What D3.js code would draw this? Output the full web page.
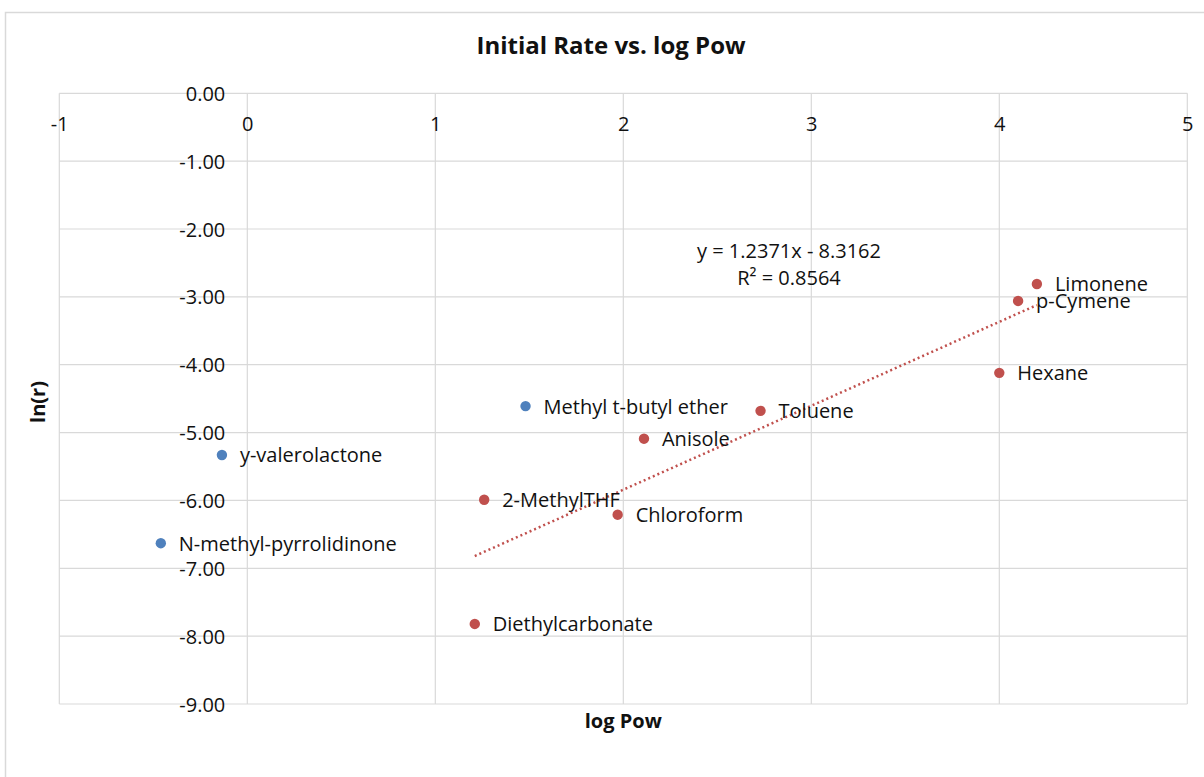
<!DOCTYPE html>
<html>
<head>
<meta charset="utf-8">
<script src="https://cdn.jsdelivr.net/npm/d3@7"></script>
<style>
  html, body { margin: 0; padding: 0; background: #fff; }
  svg { display: block; font-family: "Open Sans", sans-serif; }
</style>
</head>
<body>
<svg id="chart" width="1204" height="777"></svg>
<script>
// ---- Data ----
const blueNames  = ["N-methyl-pyrrolidinone", "y-valerolactone", "Methyl t-butyl ether"];
const blueX      = [-0.46, -0.135, 1.48];
const blueY      = [-6.63, -5.33, -4.61];

const redNames   = ["2-MethylTHF", "Diethylcarbonate", "Chloroform", "Anisole", "Toluene", "Hexane", "p-Cymene", "Limonene"];
const redX       = [1.26, 1.21, 1.97, 2.11, 2.73, 4.00, 4.10, 4.20];
const redY       = [-5.99, -7.82, -6.21, -5.09, -4.68, -4.12, -3.06, -2.81];

const trendSlope = 1.2371;
const trendIntercept = -8.3162;
const trendR2 = 0.8564;

const xTicks = [-1, 0, 1, 2, 3, 4, 5];
const yTicks = [0, -1, -2, -3, -4, -5, -6, -7, -8, -9];

const titleText = "Initial Rate vs. log Pow";
const xTitle = "log Pow";
const yTitle = "ln(r)";

// ---- Layout ----
const svg = d3.select("#chart");
const pLeft = 59.3, pRight = 1187.3, pTop = 93.3, pBottom = 704;
const x = d3.scaleLinear().domain([-1, 5]).range([pLeft, pRight]);
const y = d3.scaleLinear().domain([0, -9]).range([pTop, pBottom]);

const blue = "#4F81BD", red = "#C0504D", grid = "#d9d9d9";
const loc = d3.formatLocale({ decimal: ".", thousands: ",", grouping: [3], currency: ["", ""], minus: "-" });

// outer chart border
svg.append("rect").attr("x", 5.5).attr("y", 12.5).attr("width", 1400).attr("height", 900)
  .attr("fill", "none").attr("stroke", grid).attr("stroke-width", 1.5);

// gridlines
svg.append("g").selectAll("line").data(yTicks).join("line")
  .attr("x1", pLeft).attr("x2", pRight)
  .attr("y1", d => y(d)).attr("y2", d => y(d))
  .attr("stroke", grid).attr("stroke-width", 1.2);
svg.append("g").selectAll("line").data(xTicks).join("line")
  .attr("x1", d => x(d)).attr("x2", d => x(d))
  .attr("y1", pTop).attr("y2", pBottom)
  .attr("stroke", grid).attr("stroke-width", 1.2);

// x axis (crosses at y=0) labels
const xAxis = d3.axisBottom(x).tickValues(xTicks).tickFormat(loc.format("d")).tickSize(0).tickPadding(0);
const gx = svg.append("g").attr("transform", `translate(0,${y(0)})`).call(xAxis);
gx.select(".domain").remove();
gx.selectAll("text").attr("y", 38).attr("dy", 0)
  .attr("font-family", "Open Sans").attr("font-size", 20).attr("fill", "#111");

// y axis (crosses at x=0)
const yAxis = d3.axisLeft(y).tickValues(yTicks).tickFormat(loc.format(".2f")).tickSize(0).tickPadding(0);
const gy = svg.append("g").attr("transform", `translate(${x(0)},0)`).call(yAxis);
gy.select(".domain").remove();
gy.selectAll("text").attr("x", -22).attr("dy", "0.35em")
  .attr("font-family", "Open Sans").attr("font-size", 20).attr("fill", "#111");

// trendline (red series)
const tx0 = d3.min(redX), tx1 = d3.max(redX);
svg.append("line")
  .attr("x1", x(tx0)).attr("y1", y(trendSlope * tx0 + trendIntercept))
  .attr("x2", x(tx1)).attr("y2", y(trendSlope * tx1 + trendIntercept))
  .attr("stroke", red).attr("stroke-width", 2.5).attr("stroke-dasharray", "2,3");

// points + labels
function drawSeries(names, xs, ys, color) {
  const data = names.map((n, i) => ({ n, x: xs[i], y: ys[i] }));
  const g = svg.append("g");
  g.selectAll("circle").data(data).join("circle")
    .attr("cx", d => x(d.x)).attr("cy", d => y(d.y)).attr("r", 5.2).attr("fill", color);
  g.selectAll("text").data(data).join("text")
    .attr("x", d => x(d.x) + 18).attr("y", d => y(d.y) + 7.5)
    .attr("font-size", 20).attr("fill", "#111").text(d => d.n);
}
drawSeries(blueNames, blueX, blueY, blue);
drawSeries(redNames, redX, redY, red);

// equation
svg.append("text").attr("x", 789).attr("y", 258).attr("text-anchor", "middle")
  .attr("font-size", 20).attr("fill", "#111")
  .text(`y = ${trendSlope}x - ${Math.abs(trendIntercept)}`);
svg.append("text").attr("x", 789).attr("y", 285).attr("text-anchor", "middle")
  .attr("font-size", 20).attr("fill", "#111")
  .text(`R² = ${trendR2}`);

// titles
svg.append("text").attr("x", 611).attr("y", 54).attr("text-anchor", "middle")
  .attr("font-size", 24).attr("font-weight", "bold").attr("fill", "#111").text(titleText);
svg.append("text").attr("x", (pLeft + pRight) / 2).attr("y", 728).attr("text-anchor", "middle")
  .attr("font-size", 20).attr("font-weight", "bold").attr("fill", "#111").text(xTitle);
svg.append("text").attr("transform", "translate(45,402) rotate(-90)").attr("text-anchor", "middle")
  .attr("font-size", 20).attr("font-weight", "bold").attr("fill", "#111").text(yTitle);
</script>
</body>
</html>
